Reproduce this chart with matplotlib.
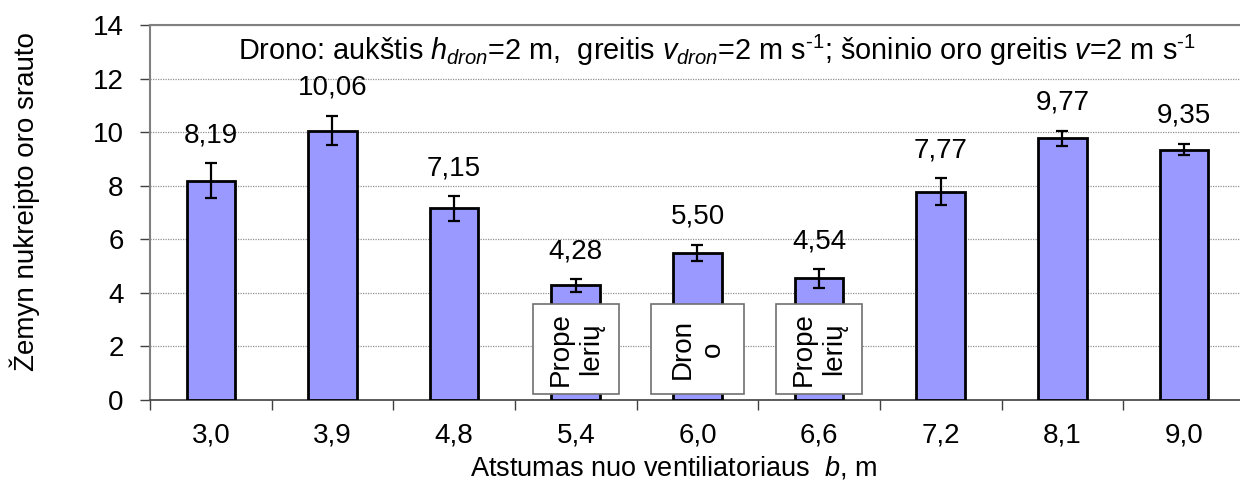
import numpy as np
import matplotlib
matplotlib.use('Agg')
import matplotlib.pyplot as plt
from matplotlib.patches import Rectangle
from matplotlib.ticker import MultipleLocator

plt.rcParams['font.family'] = ['Liberation Sans', 'DejaVu Sans']
plt.rcParams['mathtext.fontset'] = 'custom'
plt.rcParams['mathtext.rm'] = 'Liberation Sans'
plt.rcParams['mathtext.it'] = 'Liberation Sans:italic'

# duomenys
atstumai = ['3,0', '3,9', '4,8', '5,4', '6,0', '6,6', '7,2', '8,1', '9,0']
srautas = [8.19, 10.06, 7.15, 4.28, 5.50, 4.54, 7.77, 9.77, 9.35]
paklaida = [0.65, 0.55, 0.45, 0.23, 0.30, 0.35, 0.50, 0.28, 0.22]
etiketes = ['8,19', '10,06', '7,15', '4,28', '5,50', '4,54', '7,77', '9,77', '9,35']
dezutes = {3: 'Prope\nlerių', 4: 'Dron\no', 5: 'Prope\nlerių'}

fs = 20

fig = plt.figure(figsize=(12.4, 4.82), dpi=100)
ax = fig.add_axes([150 / 1240, 82 / 482, 1095 / 1240, 375 / 482])

x = np.arange(len(srautas))
ax.bar(x, srautas, width=0.40, color='#9999FF', edgecolor='black', linewidth=2, zorder=3)
ax.errorbar(x, srautas, yerr=paklaida, fmt='none', ecolor='black',
            elinewidth=1.6, capsize=4.3, capthick=1.6, zorder=4)

for xi, v, e, t in zip(x, srautas, paklaida, etiketes):
    ax.annotate(t, (xi, v + e), xytext=(0, 15), textcoords='offset points',
                ha='center', va='baseline', fontsize=fs)

for i, t in dezutes.items():
    w = 0.76 if i == 4 else 0.71
    ax.add_patch(Rectangle((i - w / 2, 0.22), w, 3.36, facecolor='white',
                           edgecolor='#707070', linewidth=1.2, zorder=5))
    ax.text(i, 1.9, t, rotation=90, ha='center', va='center', fontsize=fs,
            linespacing=1.2, zorder=6)

ax.set_xlim(-0.5, 8.5)
ax.set_ylim(0, 14)
ax.yaxis.set_major_locator(MultipleLocator(2))
ax.grid(axis='y', linestyle=(0, (1, 1)), color='#909090', linewidth=0.9, zorder=0)

ax.set_xticks(x)
ax.set_xticklabels(atstumai, fontsize=fs)
ax.set_xticks(np.arange(-0.5, 9.0, 1.0), minor=True)
ax.tick_params(axis='x', which='major', length=0, pad=16)
ax.tick_params(axis='x', which='minor', length=7, width=1, color='#404040', direction='out')
ax.tick_params(axis='y', labelsize=fs, length=7, width=1, color='#404040', pad=12)

for s in ['left', 'top']:
    ax.spines[s].set_color('#808080')
    ax.spines[s].set_linewidth(1.5)
ax.spines['bottom'].set_color('#404040')
ax.spines['bottom'].set_linewidth(1.2)
ax.spines['right'].set_visible(False)

ax.set_ylabel('Žemyn nukreipto oro srauto', fontsize=fs)
ax.yaxis.set_label_coords(-0.100, 0.528)
ax.set_xlabel(r'Atstumas nuo ventiliatoriaus  $b$, m', fontsize=19.5)
ax.xaxis.set_label_coords(0.478, -0.145)

ax.text(0.080, 0.907,
        r'Drono: aukštis $h_{dron}$=2 m,  greitis $v_{dron}$=2 m s$^{\text{-}1}$; '
        r'šoninio oro greitis $v$=2 m s$^{\text{-}1}$',
        transform=ax.transAxes, ha='left', va='baseline', fontsize=20.8)

fig.savefig('out.png', dpi=100)
